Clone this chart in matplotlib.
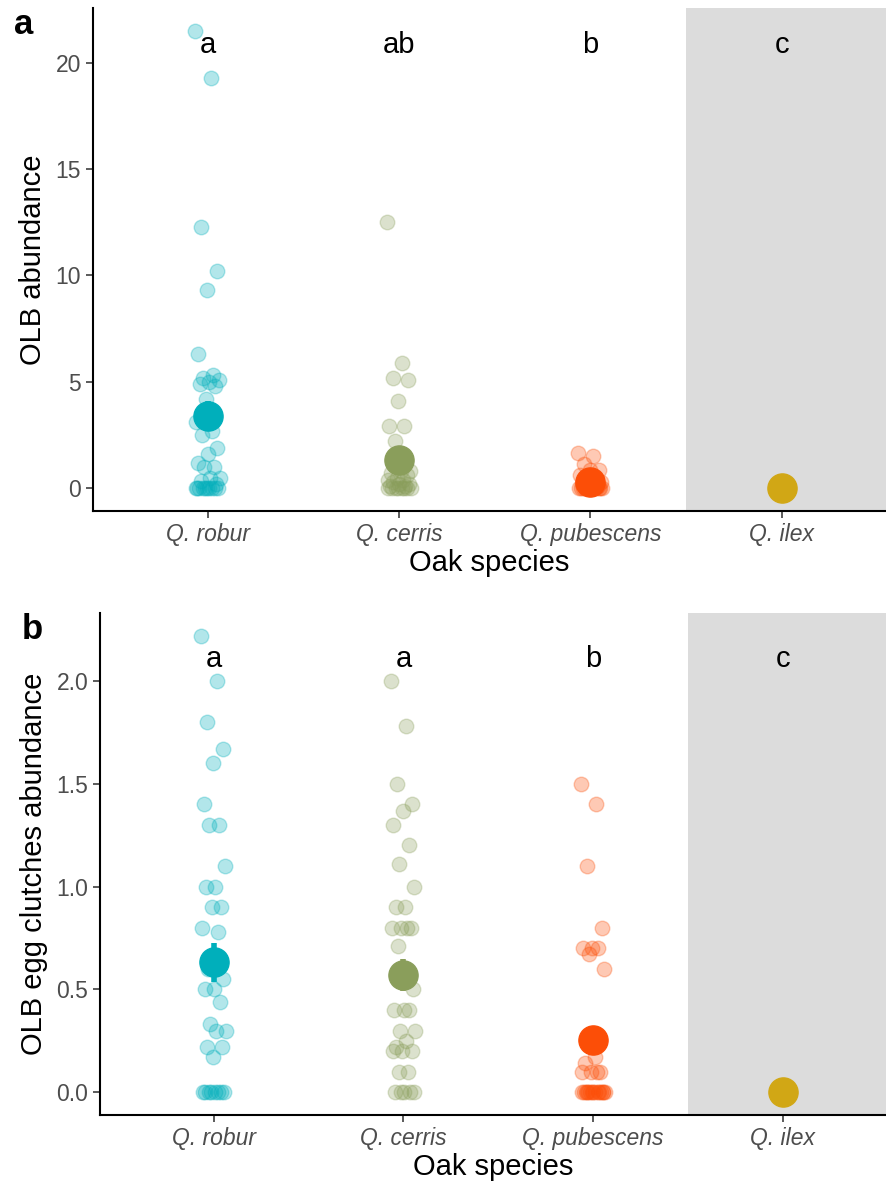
import numpy as np
import matplotlib
matplotlib.use("Agg")
import matplotlib.pyplot as plt

plt.rcParams['font.family'] = ['Liberation Sans', 'DejaVu Sans']

# species and colours
species = ["Q. robur", "Q. cerris", "Q. pubescens", "Q. ilex"]
colors = ["#00AFBB", "#8A9E5B", "#FC4E07", "#D1A715"]

# panel a: OLB abundance (raw points per tree)
robur_a = [21.5, 19.3, 12.3, 10.2, 9.3, 6.3, 5.3, 5.2, 5.1, 5.0, 4.9, 4.8, 4.2,
           3.1, 2.7, 2.5, 1.9, 1.6, 1.2, 1.0, 1.0, 0.5, 0.5, 0.33, 0.2,
           0, 0, 0, 0, 0, 0, 0, 0, 0, 0]
cerris_a = [12.5, 5.9, 5.2, 5.1, 4.1, 2.9, 2.9, 2.2, 0.8, 0.8, 0.7, 0.6, 0.5,
            0.4, 0.4, 0.3, 0.2, 0.2, 0.1, 0.1, 0, 0, 0, 0, 0, 0, 0, 0]
pub_a = [1.65, 1.5, 1.15, 0.85, 0.85, 0.6, 0.5, 0.4, 0.3, 0.2, 0.2, 0.1, 0.1,
         0, 0, 0, 0, 0, 0, 0, 0, 0, 0, 0, 0]
ilex_a = [0] * 8
mean_a = [3.39, 1.33, 0.27, 0.0]
se_a = [0.72, 0.40, 0.08, 0.0]
letters_a = ["a", "ab", "b", "c"]

# panel b: OLB egg clutches abundance
robur_b = [2.22, 2.0, 1.8, 1.67, 1.6, 1.4, 1.3, 1.3, 1.1, 1.0, 1.0, 0.9, 0.9,
           0.8, 0.78, 0.6, 0.55, 0.5, 0.5, 0.44, 0.33, 0.3, 0.3, 0.22, 0.22,
           0.17, 0, 0, 0, 0, 0, 0, 0, 0]
cerris_b = [2.0, 1.78, 1.5, 1.4, 1.37, 1.3, 1.2, 1.11, 1.0, 0.9, 0.9, 0.8, 0.8,
            0.8, 0.8, 0.71, 0.5, 0.4, 0.4, 0.4, 0.3, 0.3, 0.25, 0.22, 0.2, 0.2,
            0.2, 0.1, 0.1, 0, 0, 0, 0, 0]
pub_b = [1.5, 1.4, 1.1, 0.8, 0.7, 0.7, 0.7, 0.67, 0.6, 0.17, 0.14, 0.1, 0.1,
         0.1, 0.1, 0, 0, 0, 0, 0, 0, 0, 0, 0, 0, 0, 0, 0, 0, 0]
ilex_b = [0] * 8
mean_b = [0.631, 0.57, 0.253, 0.0]
se_b = [0.097, 0.077, 0.05, 0.0]
letters_b = ["a", "a", "b", "c"]

tick_col = "#4D4D4D"
jit_w = [0.065, 0.065, 0.065, 0.025]


def jitter(n, w):
    # deterministic spread, like geom_jitter
    return ((np.arange(n) * 0.618034) % 1 - 0.5) * 2 * w


def panel(ax, groups, means, ses, letters, ylim, yticks, yfmt, ylabel, letter_y, tag):
    ax.axvspan(3.5, 5, color="#DCDCDC", zorder=0, lw=0)
    for i, vals in enumerate(groups):
        x = i + 1 + jitter(len(vals), jit_w[i])
        ax.scatter(x, vals, s=110, color=colors[i], alpha=0.3, lw=1,
                   edgecolors=colors[i], zorder=2)
        ax.errorbar(i + 1, means[i], yerr=ses[i], fmt="o", ms=21,
                    color=colors[i], elinewidth=4, capsize=0, zorder=3)
        ax.text(i + 1, letter_y, letters[i], ha="center", va="center",
                fontsize=21, color="black")
    ax.set_xlim(0.4, 4.545)
    ax.set_ylim(*ylim)
    ax.set_yticks(yticks)
    ax.set_yticklabels([yfmt % v for v in yticks])
    ax.set_xticks([1, 2, 3, 4])
    ax.set_xticklabels(species, style="italic")
    ax.tick_params(colors=tick_col, labelsize=16.5, length=5, width=1.3)
    ax.tick_params(axis="y", labelcolor=tick_col)
    ax.tick_params(axis="x", labelcolor=tick_col)
    for s in ["top", "right"]:
        ax.spines[s].set_visible(False)
    for s in ["left", "bottom"]:
        ax.spines[s].set_linewidth(1.5)
    ax.set_xlabel("Oak species", fontsize=21, labelpad=2)
    ax.set_ylabel(ylabel, fontsize=21, labelpad=6)
    ax.text(-0.1, 1.0, tag, transform=ax.transAxes, fontsize=25,
            fontweight="bold", va="top", ha="left")


fig = plt.figure(figsize=(8.86, 11.92), dpi=100)
ax1 = fig.add_axes([93 / 886, 1 - 511 / 1192, 1 - 93 / 886, 503 / 1192])
ax2 = fig.add_axes([100 / 886, 1 - 1115 / 1192, 1 - 100 / 886, 502 / 1192])

panel(ax1, [robur_a, cerris_a, pub_a, ilex_a], mean_a, se_a, letters_a,
      (-1.075, 22.575), [0, 5, 10, 15, 20], "%d", "OLB abundance", 20.85, "a")
panel(ax2, [robur_b, cerris_b, pub_b, ilex_b], mean_b, se_b, letters_b,
      (-0.111, 2.331), [0.0, 0.5, 1.0, 1.5, 2.0], "%.1f",
      "OLB egg clutches abundance", 2.107, "b")

fig.savefig("out.png", dpi=100)
